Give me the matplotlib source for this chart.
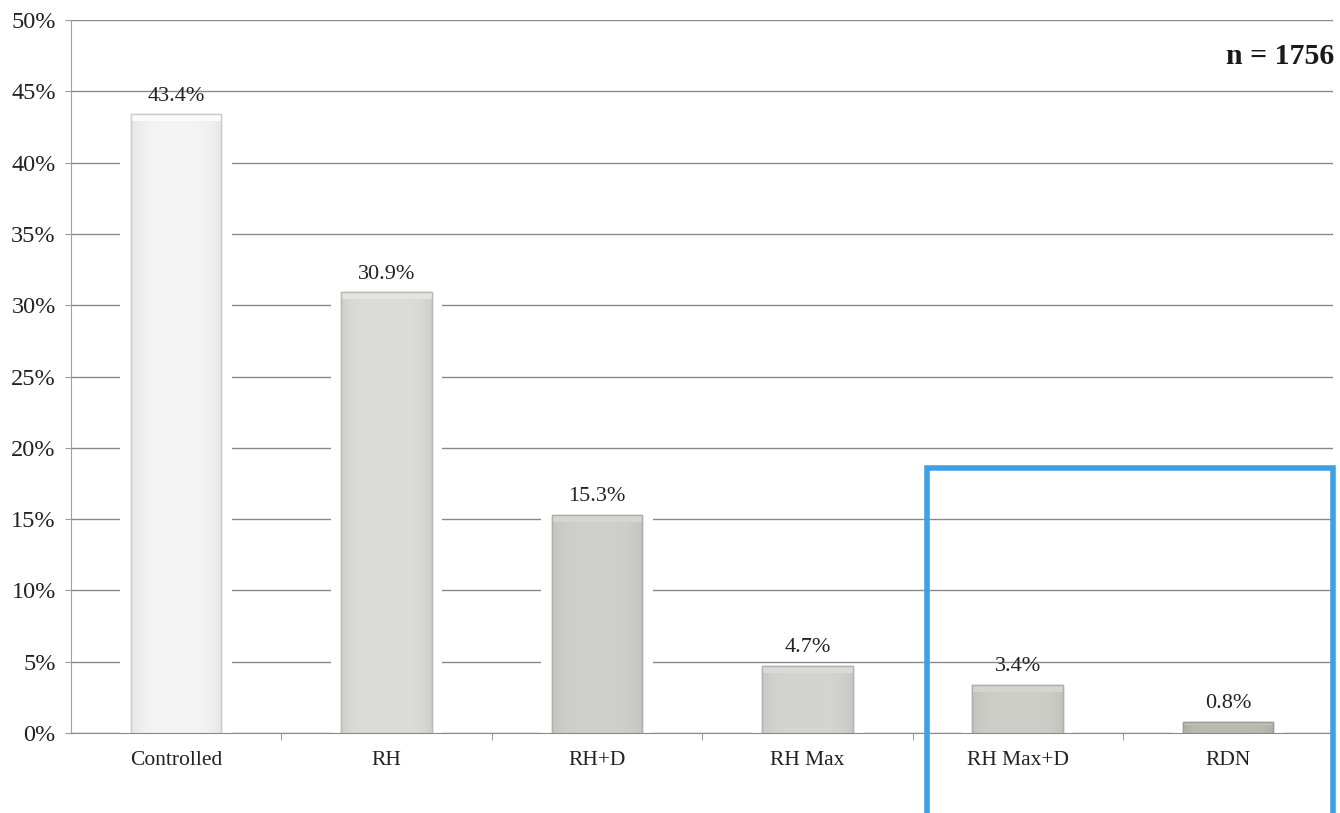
import matplotlib
matplotlib.use("Agg")
import matplotlib.pyplot as plt
import numpy as np
from matplotlib.patches import Rectangle
from matplotlib.ticker import FuncFormatter

categories = ["Controlled", "RH", "RH+D", "RH Max", "RH Max+D", "RDN"]
values = [43.4, 30.9, 15.3, 4.7, 3.4, 0.8]
labels = ["43.4%", "30.9%", "15.3%", "4.7%", "3.4%", "0.8%"]
bar_colors = ["#f4f4f4", "#dcdcd9", "#cfcfcb", "#d4d4d0", "#cfcfca", "#babcb2"]

plt.rcParams["font.family"] = ["Liberation Serif", "DejaVu Serif"]

fig = plt.figure(figsize=(13.4, 8.13), dpi=100)
ax = fig.add_axes([0.053, 0.0984, 0.942, 0.877])
x = np.arange(len(categories))
ax.set_xlim(-0.5, len(categories) - 0.5)
ax.set_ylim(0, 50)

ax.set_yticks(np.arange(0, 51, 5))
ax.yaxis.set_major_formatter(FuncFormatter(lambda v, p: f"{int(v)}%"))
ax.grid(axis="y", color="#8a8a8a", linewidth=1.0, zorder=0)
ax.set_axisbelow(True)
for s in ["top", "right"]:
    ax.spines[s].set_visible(False)
ax.spines["left"].set_color("#a0a0a0")
ax.spines["bottom"].set_color("#8a8a8a")
ax.tick_params(axis="y", length=4, color="#9a9a9a", labelsize=17.5, pad=7, labelcolor="#222222")
ax.set_xticks(x)
ax.set_xticklabels(categories)
ax.tick_params(axis="x", length=0, labelsize=15.5, pad=13, labelcolor="#222222")
ax.set_xticks(np.arange(0.5, len(categories) - 0.5, 1), minor=True)
ax.tick_params(axis="x", which="minor", length=5, color="#8a8a8a", direction="out")

w = 0.43
def shade(hexc, f):
    c = np.array(matplotlib.colors.to_rgb(hexc))
    return np.clip(c * f, 0, 1)

for i, (v, c) in enumerate(zip(values, bar_colors)):
    # white halo behind bar interrupts gridlines
    ax.bar(i, v, width=w + 0.1, color="white", zorder=2, linewidth=0)
    bars = ax.bar(i, v, width=w, color=c, edgecolor=shade(c, 0.82), linewidth=1.0, zorder=3)
    patch = bars[0]
    nx, ny = 60, 60
    xs = np.linspace(-1, 1, nx)
    prof = 1.0 - 0.06 * np.abs(xs) ** 4
    img = np.ones((ny, nx, 3)) * np.array(matplotlib.colors.to_rgb(c))
    img = img * prof[None, :, None]
    im = ax.imshow(img, extent=[i - w / 2, i + w / 2, 0, v], aspect="auto",
                   origin="upper", zorder=3.5, interpolation="bilinear")
    im.set_clip_path(patch)
    bev = min(0.5, v * 0.3)
    ax.add_patch(Rectangle((i - w / 2, v - bev), w, bev, facecolor=shade(c, 1.03),
                           edgecolor="none", zorder=3.6))
    ax.add_patch(Rectangle((i - w / 2, 0), w, v, facecolor="none",
                           edgecolor=shade(c, 0.84), linewidth=1.0, zorder=3.7))
    ax.text(i, v + 0.6, labels[i], ha="center", va="bottom", fontsize=16, color="#222222", zorder=4)

fig.text(0.996, 0.93, "n = 1756", ha="right", va="center", fontsize=21.5,
         fontweight="bold", color="#1a1a1a")

# blue highlight box
fig.patches.append(Rectangle((927 / 1340, -0.01), (1333 - 927) / 1340, (1 - 468 / 813) + 0.01,
                             transform=fig.transFigure, fill=False, edgecolor="#3fa0e6",
                             linewidth=4, zorder=10))

fig.savefig("out.png", dpi=100, facecolor="white")
